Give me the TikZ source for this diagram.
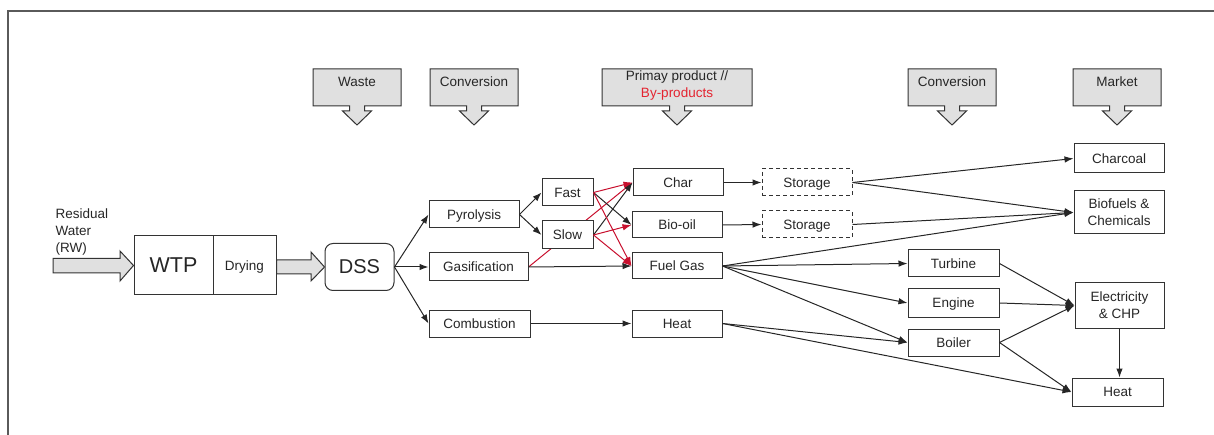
\documentclass[tikz,border=0pt]{standalone}
\usepackage{fontspec}
\setmainfont{Liberation Sans}
\usetikzlibrary{arrows.meta}
\definecolor{redarr}{RGB}{200,16,46}
\definecolor{redtext}{RGB}{228,36,48}
\definecolor{calloutgray}{RGB}{224,224,224}
\definecolor{framegray}{RGB}{90,90,90}
\pgfdeclarelayer{bg}
\pgfsetlayers{bg,main}
\newcommand\mycallout[2]{%
  \draw[callout] (#1-#2,69) -- (#1+#2,69) -- (#1+#2,106) -- (#1+7.5,106) -- (#1+7.5,111)
    -- (#1+14.5,111) -- (#1,125) -- (#1-14.5,111) -- (#1-7.5,111) -- (#1-7.5,106)
    -- (#1-#2,106) -- cycle;}
\begin{document}
\begin{tikzpicture}[x=1pt,y=-1pt,
  every node/.style={font=\fontsize{13.5}{17}\selectfont, text=black!85},
  box/.style={draw=black!80, line width=1pt, fill=white, inner sep=0pt, align=center},
  txt/.style={text height=12pt, text depth=2.3pt},
  dashbox/.style={box, dash pattern=on 4pt off 3pt},
  conn/.style={draw=black!85, line width=1pt, -{Latex[length=9pt,width=6.5pt]}},
  redconn/.style={draw=redarr, line width=1pt, -{Latex[length=9pt,width=6.5pt]}},
  callout/.style={draw=black!80, line width=1pt, fill=calloutgray},
  bigarrow/.style={draw=black!80, line width=1pt, fill=calloutgray}]
\useasboundingbox (0,0) rectangle (1214,435);

% frame
\draw[framegray, line width=1.5pt] (8,436) -- (8,11) -- (1215,11);

% callouts
\mycallout{357}{44}
\node[txt] (lwaste) at (357,82) {Waste};
\mycallout{474}{44}
\node[txt] (lconv1) at (474,82) {Conversion};
\mycallout{677}{75}
\node[txt] (lprim) at (677,76) {Primay product //};
\node[txt, text=redtext] (lbyp) at (677,93) {By-products};
\mycallout{952}{44}
\node[txt] (lconv2) at (952,82) {Conversion};
\mycallout{1117}{44}
\node[txt] (lmarket) at (1117,82) {Market};

% input text
\node[anchor=west, align=left] (rw) at (52,232) {Residual\\Water\\(RW)};

% nodes
\node[box, minimum width=79pt, minimum height=59pt, font=\fontsize{21.5}{24}\selectfont] (wtp) at (173.5,265.5) {WTP};
\node[box, txt, minimum width=63pt, minimum height=59pt] (dry) at (244.5,265.5) {Drying};
\node[box, rounded corners=8pt, minimum width=69pt, minimum height=47pt, font=\fontsize{20}{24}\selectfont] (dss) at (359.5,267) {DSS};

\node[box, txt, minimum width=90pt, minimum height=27pt] (pyro) at (474,214.5) {Pyrolysis};
\node[box, txt, minimum width=99pt, minimum height=28pt] (gas) at (478.5,267) {Gasification};
\node[box, txt, minimum width=101pt, minimum height=27pt] (comb) at (479.5,323.5) {Combustion};

\node[box, txt, minimum width=51pt, minimum height=27pt] (fast) at (567.5,192.5) {Fast};
\node[box, txt, minimum width=51pt, minimum height=28pt] (slow) at (567.5,235) {Slow};

\node[box, txt, minimum width=90pt, minimum height=27pt] (char) at (678,182.5) {Char};
\node[box, txt, minimum width=90pt, minimum height=26pt] (oil) at (677,225) {Bio-oil};
\node[box, txt, minimum width=90pt, minimum height=26pt] (fuel) at (677,266) {Fuel Gas};
\node[box, txt, minimum width=90pt, minimum height=27pt] (heata) at (677,323.5) {Heat};

\node[dashbox, txt, minimum width=90pt, minimum height=27pt] (sta) at (807,182.5) {Storage};
\node[dashbox, txt, minimum width=90pt, minimum height=27pt] (stb) at (807,224.5) {Storage};

\node[box, txt, minimum width=91pt, minimum height=27pt] (turb) at (953.5,263.5) {Turbine};
\node[box, txt, minimum width=91pt, minimum height=28pt] (eng) at (953.5,303) {Engine};
\node[box, txt, minimum width=91pt, minimum height=27pt] (boil) at (953.5,342.5) {Boiler};

\node[box, txt, minimum width=90pt, minimum height=29pt] (coal) at (1119,158.5) {Charcoal};
\node[box, minimum width=90pt, minimum height=43pt] (biof) at (1119,212.5) {Biofuels \&\\Chemicals};
\node[box, minimum width=89pt, minimum height=45pt] (elec) at (1119.5,305.5) {Electricity\\\& CHP};
\node[box, txt, minimum width=91pt, minimum height=28pt] (heatb) at (1117.5,392) {Heat};

% big gray arrows
\draw[bigarrow] (53,258.5) -- (120,258.5) -- (120,251) -- (wtp.west) -- (120,281) -- (120,273) -- (53,273) -- cycle;
\draw[bigarrow] (dry.east |- 0,260) -- (311,260) -- (311,252) -- (dss.west) -- (311,281) -- (311,274) -- (dry.east |- 0,274) -- cycle;

% connectors
\begin{pgfonlayer}{bg}
\draw[redconn] (gas.east) -- (char.west);
\end{pgfonlayer}
\draw[conn] (dss.east) -- (pyro.west);
\draw[conn] (dss.east) -- (gas.west);
\draw[conn] (dss.east) -- (comb.west);
\draw[conn] (pyro.east) -- (fast.west);
\draw[conn] (pyro.east) -- (slow.west);
\draw[conn] (fast.east) -- (oil.west);
\draw[conn] (slow.east) -- (char.west);
\draw[redconn] (fast.east) -- (char.west);
\draw[redconn] (fast.east) -- (fuel.west);
\draw[redconn] (slow.east) -- (oil.west);
\draw[redconn] (slow.east) -- (fuel.west);
\draw[conn] (gas.east) -- (fuel.west);
\draw[conn] (comb.east) -- (heata.west);
\draw[conn] (char.east) -- (sta.west);
\draw[conn] (oil.east) -- (stb.west);
\draw[conn] (sta.east) -- (coal.west);
\draw[conn] (sta.east) -- (biof.west);
\draw[conn] (stb.east) -- (biof.west);
\draw[conn] (fuel.east) -- (biof.west);
\draw[conn] (fuel.east) -- (turb.west);
\draw[conn] (fuel.east) -- (eng.west);
\draw[conn] (fuel.east) -- (boil.west);
\draw[conn] (heata.east) -- (boil.west);
\draw[conn] (heata.east) -- (heatb.west);
\draw[conn] (turb.east) -- (elec.west);
\draw[conn] (eng.east) -- (elec.west);
\draw[conn] (boil.east) -- (elec.west);
\draw[conn] (boil.east) -- (heatb.west);
\draw[conn] (elec.south) -- (heatb.north -| elec.south);
\end{tikzpicture}
\end{document}
